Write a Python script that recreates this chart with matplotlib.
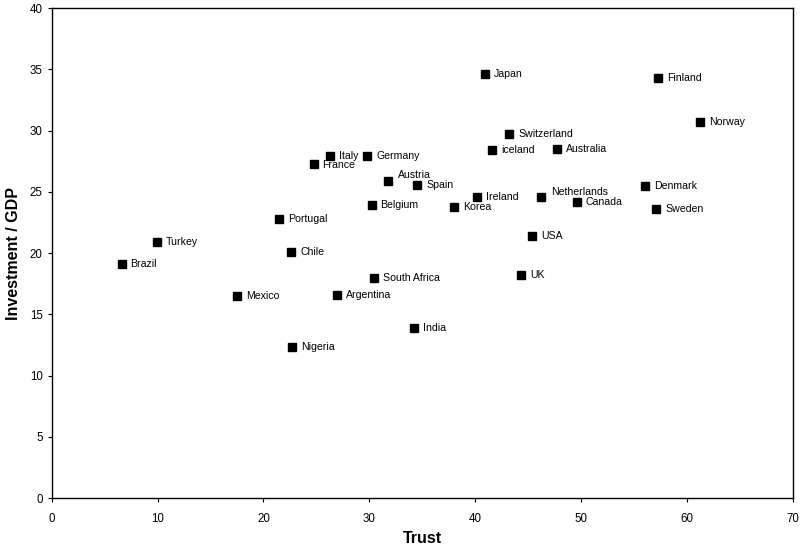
import matplotlib.pyplot as plt

plt.rcParams['font.family'] = ['Liberation Sans', 'DejaVu Sans']

# Trust vs. investment share of GDP
countries = ['Brazil', 'Turkey', 'Mexico', 'Argentina', 'Nigeria', 'Chile',
             'South Africa', 'India', 'Portugal', 'France', 'Italy', 'Germany',
             'Austria', 'Spain', 'Belgium', 'Korea', 'Ireland', 'iceland',
             'Japan', 'Switzerland', 'Australia', 'Netherlands', 'Canada',
             'USA', 'UK', 'Denmark', 'Sweden', 'Finland', 'Norway']
trust = [6.6, 9.9, 17.5, 26.9, 22.7, 22.6,
         30.4, 34.2, 21.5, 24.8, 26.3, 29.8,
         31.8, 34.5, 30.2, 38.0, 40.2, 41.6,
         40.9, 43.2, 47.7, 46.2, 49.6,
         45.4, 44.3, 56.0, 57.1, 57.3, 61.2]
invest = [19.1, 20.9, 16.5, 16.6, 12.3, 20.1,
          18.0, 13.9, 22.8, 27.3, 27.9, 27.9,
          25.9, 25.6, 23.9, 23.8, 24.6, 28.4,
          34.6, 29.7, 28.5, 24.6, 24.2,
          21.4, 18.2, 25.5, 23.6, 34.3, 30.7]

# label offsets in pixels (most sit just to the right of the marker)
nudge = {'Austria': (10, 6), 'Netherlands': (10, 5), 'France': (8, -1)}

fig = plt.figure(figsize=(8.03, 5.48), dpi=100)
ax = fig.add_axes([0.0644, 0.0912, 0.9231, 0.8937])

ax.plot(trust, invest, linestyle='none', marker='s', markersize=5.5,
        color='black')

for name, x, y in zip(countries, trust, invest):
    dx, dy = nudge.get(name, (9, 0))
    ax.annotate(name, (x, y), xytext=(dx * 0.72, dy * 0.72),
                textcoords='offset points', fontsize=7.6, va='center',
                ha='left')

ax.set_xlim(0, 70)
ax.set_ylim(0, 40)
ax.set_xticks(range(0, 71, 10))
ax.set_yticks(range(0, 41, 5))
ax.tick_params(labelsize=8.3, length=3, width=0.8, direction='out')
ax.tick_params(axis='x', pad=8)
for s in ax.spines.values():
    s.set_linewidth(1.0)
    s.set_color('black')

ax.set_xlabel('Trust', fontsize=11.5, fontweight='bold', labelpad=4)
ax.set_ylabel('Investment / GDP', fontsize=11.5, fontweight='bold',
              labelpad=6)

fig.savefig('out.png', dpi=100)
